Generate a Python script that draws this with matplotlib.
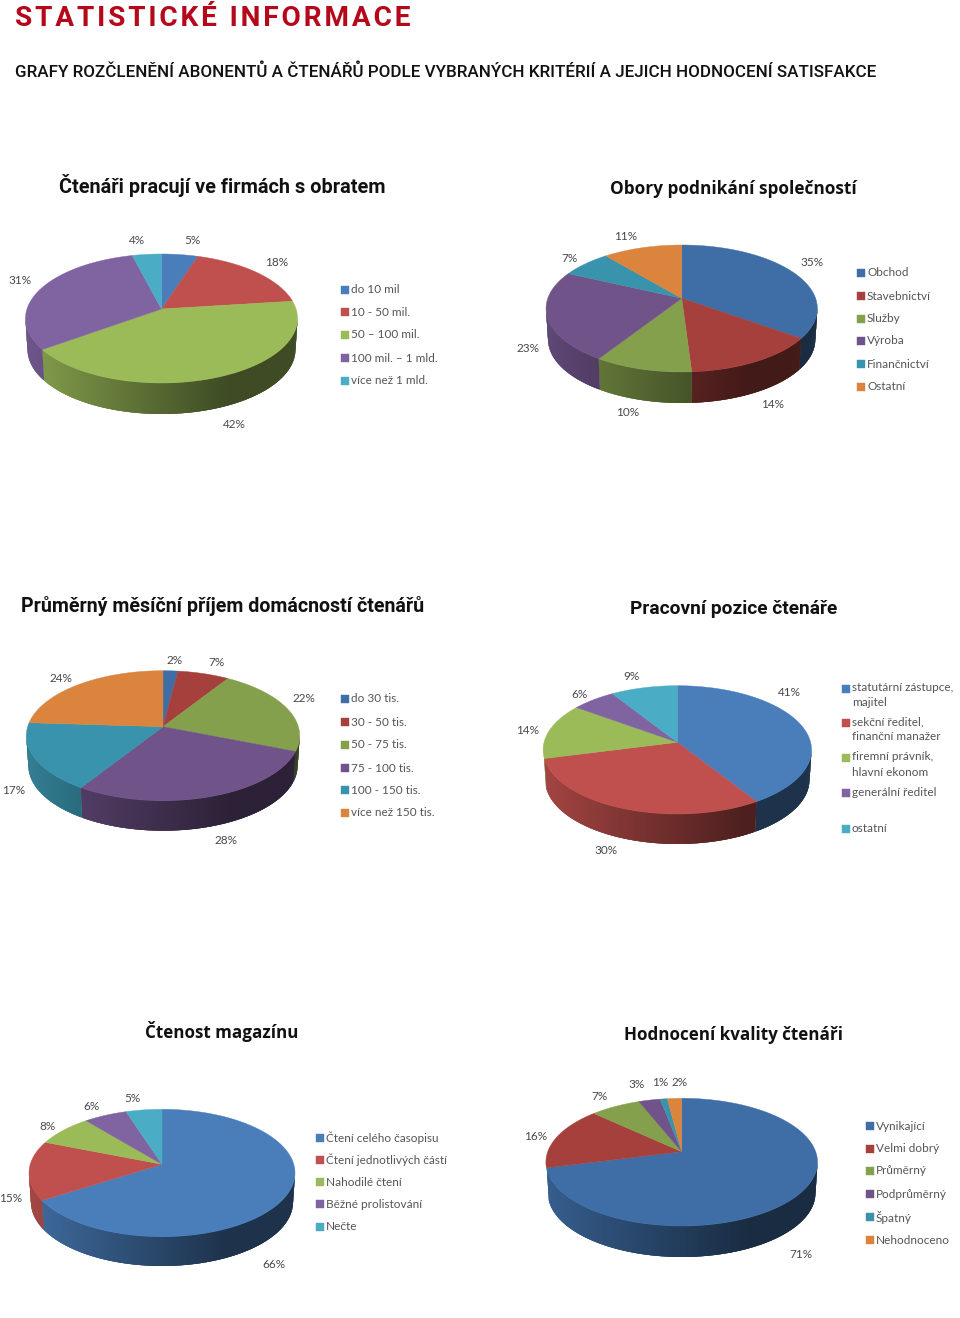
import numpy as np
import matplotlib
matplotlib.use('Agg')
import matplotlib.pyplot as plt
from matplotlib.collections import PolyCollection
from matplotlib.patches import Rectangle

# chart values, in percent
firm_values = [5, 18, 42, 31, 4]
firm_names = ['do 10 mil', '10 - 50 mil.', '50 – 100 mil.', '100 mil. – 1 mld.', 'více než 1 mld.']
field_values = [35, 14, 10, 23, 7, 11]
field_names = ['Obchod', 'Stavebnictví', 'Služby', 'Výroba', 'Finančnictví', 'Ostatní']
income_values = [2, 7, 22, 28, 17, 24]
income_names = ['do 30 tis.', '30 - 50 tis.', '50 - 75 tis.', '75 - 100 tis.', '100 - 150 tis.', 'více než 150 tis.']
job_values = [41, 30, 14, 6, 9]
job_names = ['statutární zástupce,\nmajitel', 'sekční ředitel,\nfinanční manažer', 'firemní právník,\nhlavní ekonom',
	'generální ředitel', 'ostatní']
reading_values = [66, 15, 8, 6, 5]
reading_names = ['Čtení celého časopisu', 'Čtení jednotlivých částí', 'Nahodilé čtení', 'Běžné prolistování', 'Nečte']
quality_values = [71, 16, 7, 3, 1, 2]
quality_names = ['Vynikající', 'Velmi dobrý', 'Průměrný', 'Podprůměrný', 'Špatný', 'Nehodnoceno']

main_title = 'STATISTICKÉ INFORMACE'
sub_title = 'GRAFY ROZČLENĚNÍ ABONENTŮ A ČTENÁŘŮ PODLE VYBRANÝCH KRITÉRIÍ A JEJICH HODNOCENÍ SATISFAKCE'

light = ['#4a7ebb', '#c0504d', '#9bbb59', '#8064a2', '#4bacc6', '#f79646']
dark = ['#3f6ea6', '#a5403d', '#84a04c', '#6f5389', '#3a93ac', '#db843d']

fig = plt.figure(figsize=(9.6, 13.18), dpi=100)
ax = fig.add_axes([0, 0, 1, 1])
ax.set_xlim(0, 960)
ax.set_ylim(1318, 0)
ax.axis('off')


# Puts a text so that it runs from x0 to x1 (pixels)
def fit_text(x0, x1, y, s, **kw):
	t = ax.text(x0, y, s, ha='left', va='center', fontsize=14, **kw)
	r = fig.canvas.get_renderer()
	w = t.get_window_extent(r).width
	t.set_fontsize(14 * (x1 - x0) / w)
	return t


# Tilted circle with perspective, so the apex sits above the middle of the ellipse
def project(theta, cx, cy, ax_x, k, s):
	x = np.sin(theta)
	y = np.cos(theta)
	return cx + ax_x * x / (1 + k * y), cy - s * y / (1 + k * y)


def pie3d(values, colors, cx, cy, left, right, top, bottom, depth, wall_cut=0.0):
	up = cy - top
	down = bottom - cy
	k = (down - up) / (down + up)
	s = up * (1 + k)
	half = (right - left) / 2
	ax_x = half * np.sqrt(1 - k * k)
	edges = np.cumsum([0] + list(values)) / sum(values) * 2 * np.pi

	# the side wall, shaded from left to right; each quad overlaps the next to hide the seams
	quads = []
	quad_colors = []
	for i in range(len(values)):
		th = np.linspace(edges[i], edges[i + 1], 300)
		th = th[np.cos(th) < -k + 0.02 - wall_cut * (np.sin(th) < 0)]
		base = np.array(matplotlib.colors.to_rgb(colors[i]))
		for j in range(len(th) - 1):
			a = th[j]
			b = th[min(j + 3, len(th) - 1)]
			xa, ya = project(a, cx, cy, ax_x, k, s)
			xb, yb = project(b, cx, cy, ax_x, k, s)
			xa2 = cx + (xa - cx) * 0.985
			xb2 = cx + (xb - cx) * 0.985
			quads.append([(xa, ya), (xb, yb), (xb2, yb + depth), (xa2, ya + depth)])
			frac = (xa - left) / (right - left)
			quad_colors.append(base * max(0.4, 0.85 - 0.6 * frac))
	ax.add_collection(PolyCollection(quads, facecolors=quad_colors, edgecolors='none', linewidths=0))

	# the top
	for i in range(len(values)):
		th = np.linspace(edges[i], edges[i + 1], 200)
		x, y = project(th, cx, cy, ax_x, k, s)
		ax.fill(np.r_[cx, x], np.r_[cy, y], facecolor=colors[i], edgecolor=colors[i], linewidth=0.3)


def percent_labels(values, places):
	for v, (x, y) in zip(values, places):
		ax.text(x, y, f'{v}%', ha='center', va='center', fontsize=8.5, color='#484848', family='Lato')


def legend(names, colors, x, ys, size=8):
	for name, col, y in zip(names, colors, ys):
		ax.add_patch(Rectangle((x, y - size / 2), size, size, facecolor=col, edgecolor=col, linewidth=0.3))
		if '\n' in name:
			ax.text(x + size + 2, y - 7, name, ha='left', va='top', fontsize=8.5,
					color='#555555', family='Lato', linespacing=1.5)
		else:
			ax.text(x + size + 2, y, name, ha='left', va='center', fontsize=8.5,
					color='#555555', family='Lato')


# Headings
spaced = '\u200a'.join(main_title)
fit_text(15, 413, 18, spaced, color='#b5081a', fontweight='bold', family=['Roboto', 'DejaVu Sans'])
fit_text(15, 873, 72, sub_title, color='#111111', fontweight='medium', family='Roboto')

fit_text(59, 386, 185.5, 'Čtenáři pracují ve firmách s obratem', color='#111111', fontweight='bold', family='Roboto')
fit_text(610, 858, 189.5, 'Obory podnikání společností', color='#111111', fontweight='bold', family='Open Sans')
fit_text(21, 424, 606, 'Průměrný měsíční příjem domácností čtenářů', color='#111111', fontweight='bold', family='Roboto')
fit_text(630, 838, 608.5, 'Pracovní pozice čtenáře', color='#111111', fontweight='bold', family='Roboto')
fit_text(145, 299, 1031, 'Čtenost magazínu', color='#111111', fontweight='bold', family='Open Sans')
fit_text(624, 844, 1035, 'Hodnocení kvality čtenáři', color='#111111', fontweight='bold', family='Open Sans')

# Firm turnover
pie3d(firm_values, light, 161.5, 309, 26, 298, 254, 383, 31)
percent_labels(firm_values, [(192, 241), (277, 262), (234, 424), (20, 281), (137, 240)])
legend(firm_names, light, 341, [289.5, 312, 335, 358, 380.5])

# Fields of business
pie3d(field_values, dark, 681.7, 298.3, 545.7, 817, 245, 372, 31)
percent_labels(field_values, [(812, 263), (773, 404), (628, 413), (528, 348), (569, 259), (626, 236)])
legend(field_names, dark, 857, [273, 296, 319, 341, 364, 387])

# Household income
pie3d(income_values, dark, 163, 726.7, 26.7, 300, 670.7, 800.7, 30)
percent_labels(income_values, [(175, 661), (216, 662), (304, 698), (226, 841), (14, 791), (61, 679)])
legend(income_names, dark, 341, [699, 722, 745, 768, 790, 813])

# Job position
pie3d(job_values, light, 677.3, 742.3, 543.3, 811.7, 685.7, 814, 30, wall_cut=0.13)
percent_labels(job_values, [(789, 693), (606, 850), (528, 731), (579, 694), (632, 677)])
legend(job_names, light, 842, [689, 723, 758, 793, 829])

# Readership
pie3d(reading_values, light, 162, 1164.3, 29.3, 295.3, 1109.3, 1236.7, 29.3)
percent_labels(reading_values, [(274, 1265), (11, 1199), (48, 1127), (91, 1106), (132, 1099)])
legend(reading_names, light, 316, [1138, 1160, 1182, 1204, 1227])

# Quality rating
pie3d(quality_values, dark, 681.7, 1151.7, 545.7, 817.3, 1098.3, 1226, 31, wall_cut=0.13)
percent_labels(quality_values, [(801, 1254), (536, 1137), (599, 1097), (637, 1085), (660, 1082), (680, 1083)])
legend(quality_names, dark, 866, [1126, 1149, 1171, 1194, 1217, 1240])

fig.savefig('out.png', dpi=100, facecolor='white')
plt.close()
